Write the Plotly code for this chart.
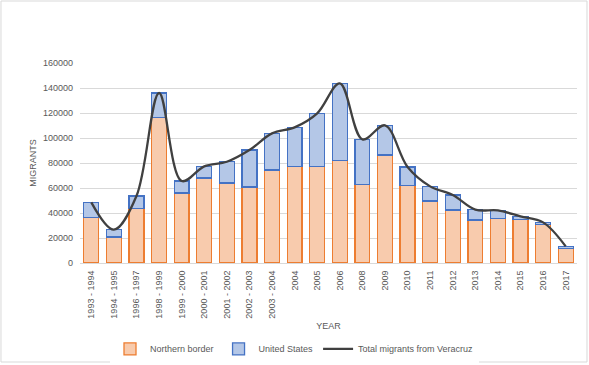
import plotly.graph_objects as go

categories = ["1993 - 1994", "1994 - 1995", "1996 - 1997", "1998 - 1999", "1999 - 2000",
              "2000 - 2001", "2001 - 2002", "2002 - 2003", "2003 - 2004", "2004", "2005",
              "2006", "2008", "2009", "2010", "2011", "2012", "2013", "2014", "2015",
              "2016", "2017"]
northern_border = [36500, 20800, 43500, 116300, 56000, 68000, 64000, 60800, 74400, 77300, 77300,
                   82100, 62700, 86400, 62100, 49600, 42400, 34400, 35500, 34700, 30700, 11500]
united_states = [12000, 5900, 10100, 19700, 9600, 9300, 17000, 29600, 29300, 31200, 42400,
                 61600, 36200, 23700, 14700, 11700, 12000, 8300, 6600, 2600, 1800, 1800]
total = [n + u for n, u in zip(northern_border, united_states)]

font_family = "Liberation Sans, Arial, sans-serif"
grey = "#595959"

fig = go.Figure()
fig.add_trace(go.Bar(x=categories, y=northern_border, name="Northern border",
                     marker=dict(color="#F8CBAD", line=dict(color="#ED7D31", width=1.3))))
fig.add_trace(go.Bar(x=categories, y=united_states, name="United States",
                     marker=dict(color="#B4C7E7", line=dict(color="#4472C4", width=1.3))))
fig.add_trace(go.Scatter(x=categories, y=total, name="Total migrants from Veracruz",
                         mode="lines", line=dict(color="#404040", width=2.3, shape="spline",
                                                 smoothing=1.0)))

fig.update_layout(
    width=589, height=365,
    margin=dict(l=80, r=12, t=63, b=102, autoexpand=False),
    barmode="stack", bargap=0.34,
    plot_bgcolor="white", paper_bgcolor="white",
    font=dict(family=font_family, size=9, color=grey),
    showlegend=True,
    legend=dict(orientation="h", x=0.5, xref="container", xanchor="center",
                y=0.044, yref="container", yanchor="middle",
                traceorder="normal", font=dict(size=9, color=grey)),
    shapes=[dict(type="rect", xref="paper", yref="paper",
                 x0=-0.159, x1=1.0201, y0=-0.495, y1=1.31,
                 line=dict(color="#D9D9D9", width=1), fillcolor="rgba(0,0,0,0)")],
)
fig.update_xaxes(
    tickangle=-90, tickfont=dict(size=9, color=grey), automargin=False,
    showline=True, linecolor="#D9D9D9", linewidth=1, ticks="",
    title=dict(text="YEAR", font=dict(size=9, color=grey), standoff=5),
    ticklabelstandoff=3,
)
fig.update_yaxes(
    range=[0, 160000], dtick=20000, tickformat="d", automargin=False,
    showgrid=True, gridcolor="#D9D9D9", gridwidth=1, zeroline=False,
    tickfont=dict(size=9, color=grey),
    title=dict(text="MIGRANTS", font=dict(size=9, color=grey), standoff=4),
    ticklabelstandoff=6,
)

fig.write_html("out.html", config={"displayModeBar": False},
               post_script="document.body.style.margin='0';document.body.style.overflow='hidden';")
